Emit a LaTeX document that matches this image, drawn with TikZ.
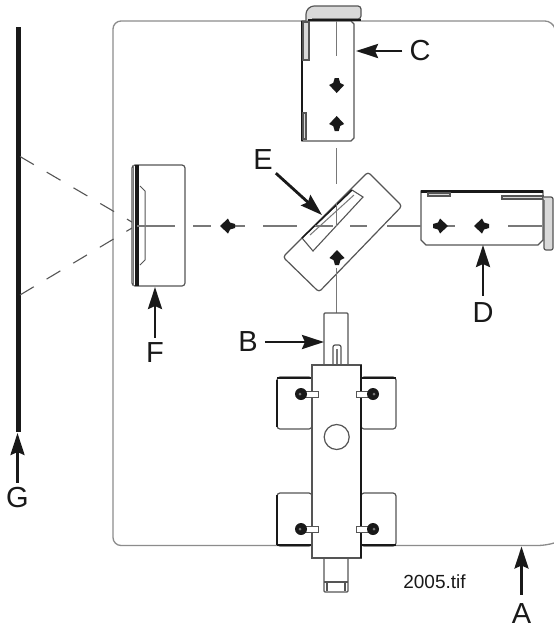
\documentclass[tikz,border=0pt]{standalone}
\usepackage{fontspec}
\setmainfont{Liberation Sans}
\usetikzlibrary{arrows.meta, calc}
\definecolor{beamgrey}{RGB}{120, 120, 120}
\definecolor{edgegrey}{RGB}{85, 85, 85}
\definecolor{inkdark}{RGB}{25, 25, 25}
\tikzset{
    frameline/.style={draw=beamgrey!85, line width=1.3pt, rounded corners=8pt},
    beamline/.style={draw=beamgrey, line width=1.1pt},
    spreadline/.style={draw=edgegrey, line width=1.1pt, dash pattern=on 16pt off 15pt},
    housing/.style={draw=edgegrey, fill=white, line width=1.2pt, rounded corners=3pt},
    heavyedge/.style={draw=inkdark, line width=2.4pt},
    bracket/.style={draw=edgegrey, fill=black!15, line width=1.2pt},
    callout/.style={-{Stealth[length=22pt, width=14pt, inset=3pt]}, line width=2.8pt, inkdark},
    letterlabel/.style={inner sep=0pt, text=inkdark, font=\fontsize{29}{29}\selectfont},
    filelabel/.style={inner sep=0pt, text=inkdark, font=\fontsize{19}{19}\selectfont},
}
\begin{document}
\begin{tikzpicture}[x=1pt, y=-1pt]
    \useasboundingbox (0,0) rectangle (554,630);
    \fill[white] (0,0) rectangle (554,630);

    % frame and screen
    \draw[frameline] (554,25) -- (553,21) -- (113,21) -- (113,545.5) -- (546,545.5) -- (554,543);
    \draw[draw=inkdark, line width=4.4pt] (18.5,27) -- (18.5,432);

    % beam paths
    \draw[beamline] (336.7,148) -- (336.7,184) (336.7,203) -- (336.7,226) (336.7,268) -- (336.7,313);
    \foreach \xa/\xb in {193/211, 235/245, 263/280} {
        \draw[beamline] (\xa,226) -- (\xb,226);
    }
    \draw[spreadline] (20,156.5) -- (137,225);
    \draw[spreadline] (20,295) -- (137,225);

    % unit C
    \draw[housing, sharp corners] (302,21) -- (302,141) -- (351,141) -- (354,138) -- (354,24) -- (351,21) -- cycle;
    \draw[beamline] (336.7,21) -- (336.7,56);
    \draw[heavyedge] (302,21) -- (302,141);
    \draw[bracket] (303,22) rectangle (309,60);
    \draw[bracket] (303,113) rectangle (306,139);
    \draw[bracket, rounded corners=3pt] (306,21) -- (306,11) -- (311,6) -- (361,6) -- (361,19) -- (312,19);
    \draw[heavyedge] (308,20) -- (361,20);

    % unit D
    \draw[housing, sharp corners] (421,191) -- (421,240) -- (426,245) -- (538,245) -- (543,240) -- (543,191) -- cycle;
    \draw[heavyedge] (421,191.5) -- (543,191.5);
    \draw[bracket] (428,193) rectangle (450,196);
    \draw[bracket] (502,196) -- (543,196) -- (543,199) -- (502,199) -- cycle;
    \draw[bracket, rounded corners=2pt] (543,197) -- (553,197) -- (553,250) -- (544,250) -- (544,200);
    \foreach \xa/\xb in {447/455, 508/542} {
        \draw[beamline] (\xa,226) -- (\xb,226);
    }

    % unit F
    \draw[housing] (132,165) -- (185,165) -- (185,286) -- (132,286) -- cycle;
    \draw[draw=inkdark, line width=4.5pt] (137,165) -- (137,286);
    \draw[beamgrey, line width=1pt] (133,165) -- (133,286);
    \draw[edgegrey, line width=1pt] (140,186) -- (145,191) -- (145,260) -- (140,265);
    \draw[beamline] (137,226) -- (175,226);

    % unit E
    \draw[housing] (368,172) -- (402,206) -- (319,292) -- (283,257) -- cycle;
    \draw[beamline] (336.7,268) -- (336.7,286);
    \draw[edgegrey, fill=white, line width=1.1pt] (302,238) -- (352,190) -- (363,197) -- (313,251) -- cycle;
    \draw[beamgrey, line width=1pt] (310,235) -- (354,195);
    \draw[inkdark, line width=1.4pt] (302,238) -- (352,190);
    \draw[beamline] (270,226) -- (297,226) (315,226) -- (333,226) (350,226) -- (367,226) (387,226) -- (421,226);
    \draw[beamline] (336.7,203) -- (336.7,226);

    % unit B
    \draw[housing, rounded corners=1pt] (324,365) -- (324,313) -- (348,313) -- (348,365);
    \draw[housing, rounded corners=2pt] (333,365) -- (333,345) -- (341,345) -- (341,365);
    \draw[beamline] (337,349) -- (337,365);
    \draw[housing] (312,377) rectangle (277,429);
    \draw[housing] (361,377) rectangle (396,429);
    \draw[housing] (312,493) rectangle (277,546);
    \draw[housing] (361,493) rectangle (396,546);
    \foreach \xa/\xb/\yc in {277/312/378, 361/396/378, 277/312/545, 361/396/545} {
        \draw[inkdark, line width=2pt] (\xa,\yc) -- (\xb,\yc);
    }
    \draw[inkdark, line width=1.8pt] (277,380) -- (277,427) (277,495) -- (277,545);
    \draw[housing, rounded corners=1pt] (324,558) -- (324,592) -- (348,592) -- (348,558);
    \draw[edgegrey, line width=1.1pt] (324,582) -- (348,582) (327,582) -- (327,591) (345,582) -- (345,591);
    \draw[housing, sharp corners] (312,365) rectangle (361,558);
    \draw[inkdark, line width=1.6pt] (361,365) -- (361,558);
    \draw[edgegrey, fill=white, line width=1.2pt] (336.7,437) circle (12.5);
    \foreach \yc in {394, 529} {
        \draw[edgegrey, fill=white, line width=1pt] (305,\yc-3) rectangle (318,\yc+3);
        \draw[edgegrey, fill=white, line width=1pt] (356,\yc-3) rectangle (369,\yc+3);
        \fill[inkdark] (301,\yc) circle (6);
        \fill[inkdark] (373,\yc) circle (6);
        \fill[beamgrey] (300,\yc) circle (1.5);
        \fill[beamgrey] (374,\yc) circle (1.5);
    }

    % beam direction marks
    \foreach \xc/\yc/\ang in {336.7/85/-90, 336.7/124/90, 337/258/90, 440/226/0, 482/226/180, 228/226/180} {
        \fill[inkdark, shift={(\xc,\yc)}, rotate=\ang] (8,0) -- (0,-7.5) -- (-2,-3.5) -- (-7,-2) -- (-7,2) -- (-2,3.5) -- (0,7.5) -- cycle;
    }

    % callouts
    \node[letterlabel] (labelA) at (521.5,614) {A};
    \node[letterlabel] (labelB) at (248,342) {B};
    \node[letterlabel] (labelC) at (420,51) {C};
    \node[letterlabel] (labelD) at (483,313) {D};
    \node[letterlabel] (labelE) at (263,160) {E};
    \node[letterlabel] (labelF) at (155,353) {F};
    \node[letterlabel] (labelG) at (17.5,498) {G};
    \node[filelabel] (fileref) at (434.5,582) {2005.tif};

    \coordinate (tipA) at (521.5,546.5);
    \coordinate (tipB) at (324,342);
    \coordinate (tipC) at (356,51);
    \coordinate (tipD) at (483,245);
    \coordinate (tipE) at (322,215);
    \coordinate (tipF) at (155,287);
    \coordinate (tipG) at (17.5,433);

    \draw[callout] (labelA.north) ++(0,-9) -- (tipA);
    \draw[callout] (labelB.east) ++(7,0) -- (tipB);
    \draw[callout] (labelC.west) ++(-7,0) -- (tipC);
    \draw[callout] (labelD.north) ++(0,-7) -- (tipD);
    \draw[callout] (labelE.south east) ++(3,3) -- (tipE);
    \draw[callout] (labelF.north) ++(0,-5) -- (tipF);
    \draw[callout] (labelG.north) ++(0,-5) -- (tipG);
\end{tikzpicture}
\end{document}
